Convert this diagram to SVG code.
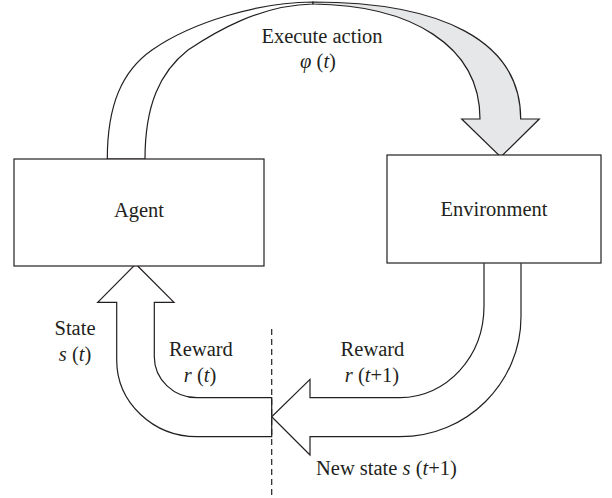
<svg xmlns="http://www.w3.org/2000/svg" width="612" height="498" viewBox="0 0 612 498">
<style>
.box{fill:#fff;stroke:#231f20;stroke-width:1.2}
.arr{fill:#fff;stroke:#231f20;stroke-width:1.2;stroke-linejoin:miter}
.gray{fill:#e6e7e8;stroke:#231f20;stroke-width:1.2}
.t{font-family:"Liberation Serif","Times New Roman",serif;font-size:20.5px;fill:#231f20}
.i{font-style:italic}
.dash{stroke:#231f20;stroke-width:1.2;stroke-dasharray:6,4;fill:none}
</style>
<rect width="612" height="498" fill="#fff"/>
<g id="connectors">
  <g id="action-arrow">
    <path class="arr" d="M107.3,159 C107.3,105 122,71 152,50 C192,22 260,2 313,2 L313,4 C260,5 215,32 188,50 C160,72 145,105 145,159 Z"/>
    <path class="gray" d="M313,2 C440,2 520.7,40 520.7,119 L539.3,119 L500.7,157 L461.7,119 L480,119 C480,45 410,5 313,4 Z"/>
  </g>
  <path id="state-reward-arrow" class="arr" d="M135.7,264 L174,302.3 L154.3,302.3 L154.3,356.7 C154.3,379.7 174,397.7 197,397.7 L271.7,397.7 L271.7,436.7 L197,436.7 C153,436.7 116.7,402.5 116.7,360 L116.7,302.3 L97.7,302.3 Z"/>
  <path id="env-arrow" class="arr" d="M484,263.3 L484,306 C484,356.8 446.4,397.7 400,397.7 L310,397.7 L310,379.3 L271.7,416.7 L310,455 L310,436.7 L400,436.7 C467,436.7 521,382.7 521,316.7 L521,263.3"/>
  <line class="dash" x1="271.7" y1="329" x2="271.7" y2="498"/>
</g>
<g id="agent">
  <rect class="box" x="14" y="159" width="250" height="107"/>
  <text class="t" x="139" y="217" text-anchor="middle">Agent</text>
</g>
<g id="environment">
  <rect class="box" x="387" y="155" width="214" height="108"/>
  <text class="t" x="494" y="216" text-anchor="middle">Environment</text>
</g>
<g id="labels">
  <text class="t" x="322" y="43" text-anchor="middle">Execute action</text>
  <text class="t" x="318" y="68" text-anchor="middle"><tspan class="i">φ</tspan> (<tspan class="i">t</tspan>)</text>
  <text class="t" x="75" y="335" text-anchor="middle">State</text>
  <text class="t" x="75" y="361" text-anchor="middle"><tspan class="i">s</tspan> (<tspan class="i">t</tspan>)</text>
  <text class="t" x="201" y="356" text-anchor="middle">Reward</text>
  <text class="t" x="200" y="382" text-anchor="middle"><tspan class="i">r</tspan> (<tspan class="i">t</tspan>)</text>
  <text class="t" x="372.5" y="356" text-anchor="middle">Reward</text>
  <text class="t" x="372" y="382" text-anchor="middle"><tspan class="i">r</tspan> (<tspan class="i">t</tspan>+1)</text>
  <text class="t" x="316" y="475">New state <tspan class="i">s</tspan> (<tspan class="i">t</tspan>+1)</text>
</g>
</svg>
